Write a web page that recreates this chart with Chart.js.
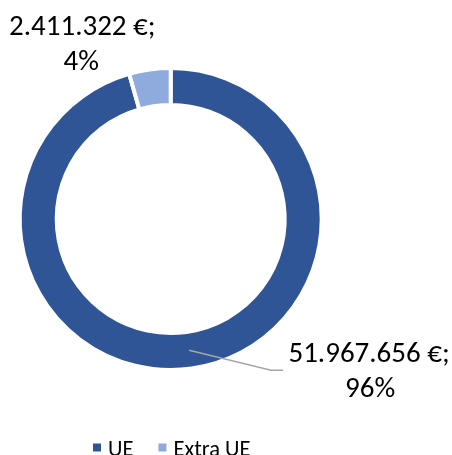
<!DOCTYPE html>
<html>
<head>
<meta charset="utf-8">
<script src="https://cdn.jsdelivr.net/npm/chart.js@4"></script>
<style>
  html, body { margin: 0; padding: 0; background: #fff; }
  #wrap { width: 452px; height: 455px; }
</style>
</head>
<body>
<div id="wrap"><canvas id="chart" width="452" height="455"></canvas></div>
<script>
// --- data ---
const categories = ['UE', 'Extra UE'];
const amounts = [51967656, 2411322];
const amountLabels = ['51.967.656 €;', '2.411.322 €;'];
const percentLabels = ['96%', '4%'];
const sliceColors = ['#2F5597', '#8FAADC'];

const FONT = "Carlito, 'Liberation Sans', Arial, sans-serif";

// labels + leader line + legend, drawn on top of the doughnut
const decorPlugin = {
  id: 'decor',
  afterDraw(chart) {
    const ctx = chart.ctx;
    const arcs = chart.getDatasetMeta(0).data;
    ctx.save();
    ctx.fillStyle = '#000';
    ctx.textAlign = 'center';
    ctx.textBaseline = 'alphabetic';
    ctx.font = '29px ' + FONT;

    // big slice: leader line from the middle of the ring out to the label
    const big = arcs[0];
    const s = big.getCenterPoint();
    ctx.strokeStyle = '#A6A6A6';
    ctx.lineWidth = 1.5;
    ctx.beginPath();
    ctx.moveTo(s.x, s.y);
    ctx.lineTo(s.x + 82, s.y + 20);
    ctx.lineTo(s.x + 94, s.y + 20);
    ctx.stroke();
    ctx.fillText(amountLabels[0], s.x + 180, s.y + 12);
    ctx.fillText(percentLabels[0], s.x + 181, s.y + 47);

    // small slice: label above-left, no line
    const p = arcs[1].getCenterPoint();
    ctx.fillText(amountLabels[1], p.x - 70, p.y - 52.5);
    ctx.fillText(percentLabels[1], p.x - 71, p.y - 17.5);

    // legend
    ctx.font = '22.5px ' + FONT;
    ctx.textAlign = 'left';
    let x = 93;
    categories.forEach((name, i) => {
      ctx.fillStyle = sliceColors[i];
      ctx.fillRect(x, 443.5, 8, 8);
      ctx.fillStyle = '#000';
      ctx.fillText(name, x + 15, 455.5);
      x += 15 + ctx.measureText(name).width + 25;
    });
    ctx.restore();
  }
};

new Chart(document.getElementById('chart'), {
  type: 'doughnut',
  data: {
    labels: categories,
    datasets: [{
      data: amounts,
      backgroundColor: sliceColors,
      borderColor: '#FFFFFF',
      borderWidth: 4,
      hoverOffset: 0
    }]
  },
  options: {
    responsive: false,
    animation: false,
    cutout: '75.5%',
    layout: { padding: { top: 66, bottom: 83, left: 17.7, right: 128.3 } },
    plugins: {
      legend: { display: false },
      tooltip: { enabled: false }
    }
  },
  plugins: [decorPlugin]
});
</script>
</body>
</html>
